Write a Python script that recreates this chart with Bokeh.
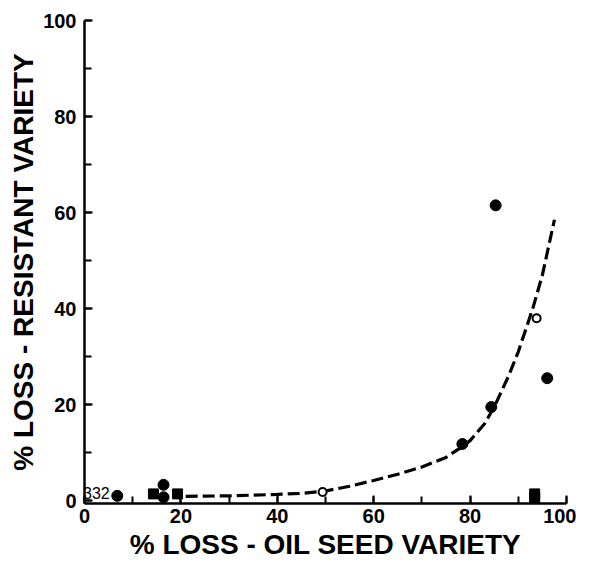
from bokeh.plotting import figure
from bokeh.models import Range1d, SingleIntervalTicker, Label
from bokeh.embed import file_html
from bokeh.resources import INLINE

# filled circles (oil seed loss %, resistant loss %)
fc_x = [6.8, 16.4, 16.4, 78.4, 84.4, 85.3, 96.0]
fc_y = [1.0, 3.3, 0.7, 11.8, 19.5, 61.5, 25.5]
# open circles
oc_x = [49.4, 93.8]
oc_y = [1.8, 38.0]
# filled squares
sq_x = [14.3, 19.3, 93.4, 93.4]
sq_y = [1.4, 1.4, 0.5, 1.4]
# fitted curve
cv_x = [21, 30, 40, 45, 50, 55, 60, 65, 70, 75, 78, 80, 83, 85, 88, 90, 93, 95, 97.5]
cv_y = [0.9, 1.0, 1.3, 1.5, 2.0, 3.0, 4.2, 5.5, 7.0, 9.0, 11.0, 12.5, 16.0, 19.5, 26.0, 31.0, 40.0, 47.0, 58.5]
label_text = "332"

W, H = 576, 563
p = figure(width=W, height=H, output_backend="svg", toolbar_location=None,
           x_range=Range1d(0, 100), y_range=Range1d(-0.6, 100),
           min_border_left=84, min_border_right=10, min_border_top=20, min_border_bottom=60)
p.grid.visible = False
p.outline_line_color = None
p.background_fill_color = "white"

for ax in (p.xaxis[0], p.yaxis[0]):
    ax.ticker = SingleIntervalTicker(interval=20, num_minor_ticks=2)
    ax.axis_line_width = 2.5
    ax.axis_line_color = "black"
    ax.major_tick_in = 8
    ax.major_tick_out = 0
    ax.minor_tick_in = 7
    ax.minor_tick_out = 0
    ax.major_tick_line_width = 2
    ax.minor_tick_line_width = 2
    ax.major_label_text_font = "Liberation Sans"
    ax.major_label_text_font_style = "bold"
    ax.major_label_text_font_size = "20px"
    ax.major_label_text_color = "black"
    ax.axis_label_text_font = "Liberation Sans"
    ax.axis_label_text_font_style = "bold"
    ax.axis_label_text_color = "black"

p.xaxis.axis_label = "% LOSS - OIL SEED VARIETY"
p.yaxis.axis_label = "% LOSS - RESISTANT VARIETY"
p.xaxis.axis_label_text_font_size = "28px"
p.yaxis.axis_label_text_font_size = "28px"
p.xaxis.major_label_standoff = 5
p.yaxis.major_label_standoff = 8
p.xaxis.axis_label_standoff = 3
p.yaxis.axis_label_standoff = 1

p.line(cv_x, cv_y, line_color="black", line_width=3.2, line_dash="12 5")
p.scatter(fc_x, fc_y, marker="circle", size=11, fill_color="black", line_color="black")
p.scatter(sq_x, sq_y, marker="square", size=10, fill_color="black", line_color="black")
p.scatter(oc_x, oc_y, marker="circle", size=8, fill_color="white", line_color="black", line_width=2)

p.add_layout(Label(x=-0.3, y=1.6, text=label_text, text_font="Liberation Sans",
                   text_font_size="16px", text_baseline="middle", text_color="black"))

open("out.html", "w").write(file_html(p, INLINE))
